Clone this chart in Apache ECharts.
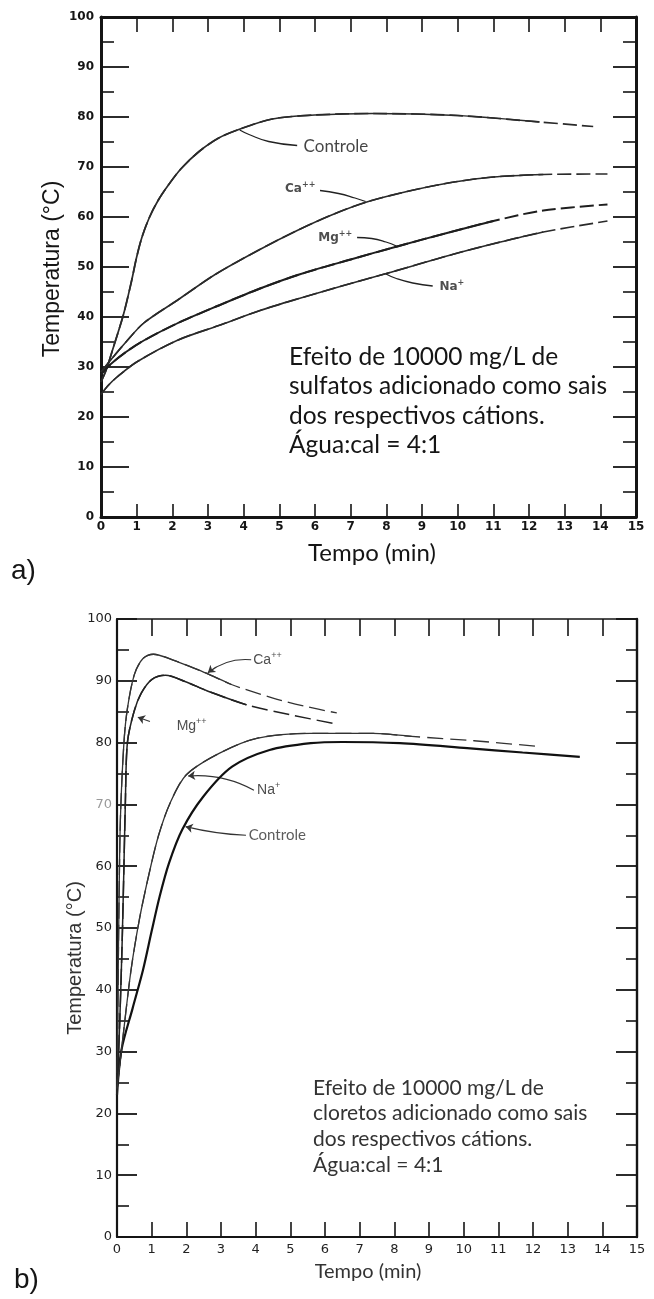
<!DOCTYPE html>
<html><head><meta charset="utf-8">
<script src="https://cdn.jsdelivr.net/npm/echarts@6/dist/echarts.min.js"></script>
<style>html,body{margin:0;padding:0;background:#fff;}#c{width:654px;height:1299px;}</style>
</head><body><div id="c"></div>
<script>
// ---------- shared axis values ----------
const timeRange = [0, 15];      // Tempo (min)
const timeStep = 1;
const tempRange = [0, 100];     // Temperatura (°C)
const tempStep = 10;

// ---------- a) sulfatos : [tempo, temperatura] ----------
const aControle = [[0,27],[0.15,29.5],[0.35,34],[0.63,40.5],[0.85,47],[1.0,52],[1.15,56],[1.35,59.8],[1.6,63.3],[1.9,66.5],[2.25,69.7],[2.75,73.1],[3.3,75.8],[3.9,77.6],[4.8,79.6],[6,80.4],[7.6,80.7],[10,80.3],[12.3,79],[13.8,78.1]];
const aCa = [[0,29],[0.26,31.3],[0.7,35],[1.2,38.8],[2.13,43.3],[3.2,48.5],[4.4,53.3],[5.5,57.3],[6.5,60.5],[7.45,63],[8.7,65.3],[9.9,67],[11,68],[12.4,68.5],[14.2,68.6]];
const aMg = [[0,28.5],[0.26,30.5],[0.7,33],[1.2,35.3],[2.13,38.7],[3.3,42.3],[4.46,45.7],[5.6,48.6],[7,51.5],[8.3,54.1],[9.7,56.8],[11,59.2],[12.4,61.3],[14.2,62.5]];
const aNa = [[0,24.5],[0.2,26.3],[0.45,28],[1,31],[2.13,35.3],[3.3,38.3],[4.46,41.3],[5.6,43.8],[6.8,46.3],[8,48.7],[9.9,52.6],[11.2,55],[12.4,57],[14.2,59.2]];
const aDashStart = [12.3, 12.4, 11, 12.4];   // Controle, Ca, Mg, Na
const aLabelNames = ['Controle', 'Ca++', 'Mg++', 'Na+'];
const aLabelAt = [[5.68,74],[5.16,65.7],[6.09,55.9],[9.49,46.1]];
const aPtrControle = [[3.89,77.4],[4.15,76.5],[4.7,75.1],[5.5,74.3]];
const aPtrCa = [[6.14,65.3],[6.66,64.7],[7.12,63.8],[7.42,63.1]];
const aPtrMg = [[7.18,55.9],[7.59,55.7],[7.99,55.0],[8.28,54.2]];
const aPtrNa = [[7.99,48.6],[8.28,47.7],[8.74,46.8],[9.3,46.2]];
const aNote = ['Efeito de 10000 mg/L de', 'sulfatos adicionado como sais', 'dos respectivos cátions.', 'Água:cal = 4:1'];

// ---------- b) cloretos ----------
const bControle = [[0,23],[0.13,30.3],[0.45,37],[0.75,43.2],[1.0,49.5],[1.23,55.1],[1.5,60.5],[1.88,65.9],[2.48,71.2],[3.32,76.1],[4.4,78.8],[5.59,79.9],[6.5,80.1],[8.16,79.9],[10.1,79.1],[11.7,78.4],[13.35,77.7]];
const bCa = [[0,23],[0.03,40],[0.06,55],[0.1,68],[0.2,80],[0.3,85.5],[0.5,91],[0.75,93.6],[1.05,94.3],[1.6,93.4],[2.2,92.1],[2.59,91.2],[3.3,89.4],[4.5,87.2],[5.4,85.9],[6.34,84.8]];
const bMg = [[0,23],[0.08,35],[0.15,48],[0.2,60],[0.24,70],[0.3,80],[0.49,85],[0.7,88],[1.0,90.2],[1.4,90.9],[2.0,89.8],[2.59,88.4],[3.74,86.1],[5.0,84.5],[6.34,83.0]];
const bNa = [[0,24],[0.13,30.3],[0.4,43],[0.65,51.5],[0.93,58.9],[1.2,65],[1.53,70.2],[2.0,74.8],[2.96,78.3],[4.03,80.7],[5.59,81.5],[7.38,81.5],[8.5,81],[10.3,80.3],[12.1,79.4]];
const bDashStart = [99, 3.3, 3.74, 8.5];     // Controle (solid), Ca, Mg, Na
const bLabelNames = ['Controle', 'Ca++', 'Mg++', 'Na+'];
const bLabelAt = [[3.8,65],[3.93,93.3],[1.72,82.7],[4.04,72.3]];
const bPtrControle = [[3.72,65.0],[1.98,66.4]];
const bPtrCa = [[3.87,93.4],[2.62,91.3]];
const bPtrMg = [[0.95,83.4],[0.6,84.1]];
const bPtrNa = [[3.95,72.3],[2.05,74.6]];
const bNote = ['Efeito de 10000 mg/L de', 'cloretos adicionado como sais', 'dos respectivos cátions.', 'Água:cal = 4:1'];

// ---------- build ----------
const INK = '#151515';
function curve(pts, xd, ax, color, width, dash){
  const i = pts.findIndex(p => p[0] >= xd);
  const base = {type:'line', xAxisIndex:ax, yAxisIndex:ax, smooth:0.3,
    symbol:'none', showSymbol:false, silent:true, animation:false};
  if (i < 0) return [Object.assign({}, base, {z:3, data:pts, lineStyle:{color, width}})];
  // whole curve dashed underneath, solid part drawn on top -> one continuous smooth path
  return [
    Object.assign({}, base, {z:2, data:pts, lineStyle:{color, width, type:dash}}),
    Object.assign({}, base, {z:3, data:pts.slice(0, i + 1), lineStyle:{color, width}})
  ];
}
function pointer(pts, ax){
  return {type:'line', xAxisIndex:ax, yAxisIndex:ax, data:pts, smooth:0.5, symbol:'none',
    showSymbol:false, silent:true, animation:false, lineStyle:{color:'#222', width:1.3}};
}
function arrow(pts, ax, curv){
  return {type:'lines', coordinateSystem:'cartesian2d', xAxisIndex:ax, yAxisIndex:ax, polyline:false,
    symbol:['none','arrow'], symbolSize:7, silent:true, animation:false,
    lineStyle:{color:'#333', width:1.1, curveness:curv, opacity:1},
    data:[{coords:pts}]};
}
function sup(name){
  const m = name.match(/^([A-Za-z]+)(\+*)$/);
  return '{m|' + m[1] + '}' + (m[2] ? '{s|' + m[2] + '}' : '');
}
function labels(names, at, ax, mStyle, sStyle){
  return {type:'scatter', xAxisIndex:ax, yAxisIndex:ax, symbolSize:0, silent:true, animation:false, z:5,
    data: names.map((n,i) => ({value: at[i], name: n})),
    label:{show:true, position:'inside', align:'left', verticalAlign:'middle',
      formatter: p => sup(p.name), rich:{m:mStyle, s:sStyle}}};
}

function xAxes(grid, labelStyle, axW, tickLen){
  return [
    {type:'value', gridIndex:grid, position:'bottom', min:timeRange[0], max:timeRange[1], interval:timeStep,
     axisLine:{show:true, onZero:false, lineStyle:{color:INK, width:axW}},
     axisTick:{show:true, inside:true, length:tickLen, lineStyle:{color:INK, width:1.6}},
     axisLabel:Object.assign({show:true, showMinLabel:true, showMaxLabel:true, hideOverlap:false}, labelStyle),
     splitLine:{show:false}},
    {type:'value', gridIndex:grid, position:'top', min:timeRange[0], max:timeRange[1], interval:timeStep,
     axisLine:{show:true, onZero:false, lineStyle:{color:INK, width:axW}},
     axisTick:{show:true, inside:true, length:tickLen+2, lineStyle:{color:INK, width:1.6}},
     axisLabel:{show:false}, splitLine:{show:false}}
  ];
}
function yAxes(grid, labelStyle, axW, lMaj, lMin, rMaj, rMin){
  return [
    {type:'value', gridIndex:grid, position:'left', min:tempRange[0], max:tempRange[1], interval:tempStep,
     axisLine:{show:true, onZero:false, lineStyle:{color:INK, width:axW}},
     axisTick:{show:true, inside:true, length:lMaj, lineStyle:{color:INK, width:1.8}},
     minorTick:{show:true, splitNumber:2, length:lMin, lineStyle:{color:INK, width:1.6}},
     axisLabel:Object.assign({show:true, showMinLabel:true, showMaxLabel:true, hideOverlap:false}, labelStyle),
     splitLine:{show:false}, minorSplitLine:{show:false}},
    {type:'value', gridIndex:grid, position:'right', min:tempRange[0], max:tempRange[1], interval:tempStep,
     axisLine:{show:true, onZero:false, lineStyle:{color:INK, width:axW}},
     axisTick:{show:true, inside:true, length:rMaj, lineStyle:{color:INK, width:1.8}},
     minorTick:{show:true, splitNumber:2, length:rMin, lineStyle:{color:INK, width:1.6}},
     axisLabel:{show:false}, splitLine:{show:false}, minorSplitLine:{show:false}}
  ];
}

const labA = {fontFamily:'"DejaVu Sans", sans-serif', fontWeight:'bold', fontSize:12, color:INK};
const labB = {fontFamily:'"DejaVu Sans", sans-serif', fontSize:13, color:'#222'};

const xa = xAxes(0, Object.assign({margin:4}, labA), 3, 13);
const xb = xAxes(1, Object.assign({margin:6}, labB), 2.2, 15);
const ya = yAxes(0, Object.assign({margin:7}, labA), 3, 28, 13, 23, 13);
const yb = yAxes(1, Object.assign({margin:5,
  formatter: v => v === 70 ? '{g|70}' : String(v),
  rich:{g:{color:'#9a9a9a', fontFamily:'"DejaVu Sans", sans-serif', fontSize:13}}}, labB), 2.2, 20, 12, 21, 11);
yb[1].axisLine.lineStyle.width = 2.4;
xb[1].axisLine.lineStyle.width = 1.6;

const series = [].concat(
  curve(aControle, aDashStart[0], 0, '#2a2a2a', 1.7, [14,5]),
  curve(aCa, aDashStart[1], 0, '#2a2a2a', 1.6, [14,5]),
  curve(aMg, aDashStart[2], 0, '#1e1e1e', 1.9, [14,5]),
  curve(aNa, aDashStart[3], 0, '#2a2a2a', 1.6, [14,5]),
  [pointer(aPtrControle,0), pointer(aPtrCa,0), pointer(aPtrMg,0), pointer(aPtrNa,0)],
  [labels(aLabelNames.slice(0,1), aLabelAt.slice(0,1), 0,
     {fontFamily:'Lato, sans-serif', fontSize:17, color:INK}, {fontSize:9}),
   labels(aLabelNames.slice(1), aLabelAt.slice(1), 0,
     {fontFamily:'"DejaVu Sans", sans-serif', fontWeight:'bold', fontSize:12, color:'#222', lineHeight:16},
     {fontFamily:'"DejaVu Sans", sans-serif', fontWeight:'bold', fontSize:8, color:'#222', verticalAlign:'top', lineHeight:10})],
  curve(bControle, bDashStart[0], 2, '#111', 2.2, [16,6]),
  curve(bCa, bDashStart[1], 2, '#333', 1.3, [16,6]),
  curve(bMg, bDashStart[2], 2, '#222', 1.5, [16,6]),
  curve(bNa, bDashStart[3], 2, '#333', 1.3, [16,7]),
  [arrow(bPtrControle,2,0.05), arrow(bPtrCa,2,-0.2), arrow(bPtrMg,2,0), arrow(bPtrNa,2,-0.15)],
  [labels(bLabelNames.slice(0,1), bLabelAt.slice(0,1), 2,
     {fontFamily:'Lato, sans-serif', fontSize:15, color:'#333'}, {fontSize:9}),
   labels(bLabelNames.slice(1), bLabelAt.slice(1), 2,
     {fontFamily:'"Liberation Sans", Arial, sans-serif', fontSize:14, color:'#222', lineHeight:18},
     {fontFamily:'"Liberation Sans", Arial, sans-serif', fontSize:9, color:'#222', verticalAlign:'top', lineHeight:10})]
);

function txt(x, y, text, font, opts){
  return Object.assign({type:'text', x, y, silent:true,
    style:Object.assign({text, font, fill:INK, align:'left', verticalAlign:'middle'}, (opts && opts.style) || {})},
    (opts && opts.el) || {});
}
const graphic = [
  txt(53, 269, 'Temperatura (°C)', '23px "Liberation Sans", Arial, sans-serif', {el:{rotation:Math.PI/2}, style:{align:'center'}}),
  txt(372, 553, 'Tempo (min)', '24px Lato, sans-serif', {style:{align:'center'}}),
  txt(11, 571, 'a)', '28px "Liberation Sans", Arial, sans-serif'),
  txt(75, 958, 'Temperatura (°C)', '20px "Liberation Sans", Arial, sans-serif', {el:{rotation:Math.PI/2}, style:{align:'center', fill:'#333'}}),
  txt(368, 1272, 'Tempo (min)', '20px Lato, sans-serif', {style:{align:'center', fill:'#333'}}),
  txt(14, 1280, 'b)', '28px "Liberation Sans", Arial, sans-serif')
].concat(
  aNote.map((t,i) => txt(289, 357 + i*29.5, t, '24.5px Lato, sans-serif')),
  bNote.map((t,i) => txt(313, 1088 + i*25.7, t, '21px Lato, sans-serif', {style:{fill:'#333'}}))
);

const chart = echarts.init(document.getElementById('c'), null, {renderer:'canvas', width:654, height:1299});
chart.setOption({
  animation:false,
  backgroundColor:'#ffffff',
  grid:[
    {left:101, top:17, width:535, height:500, outerBoundsMode:'none', containLabel:false},
    {left:117, top:619, width:520, height:618, outerBoundsMode:'none', containLabel:false}
  ],
  xAxis:[xa[0], xa[1], Object.assign(xb[0], {gridIndex:1}), Object.assign(xb[1], {gridIndex:1})],
  yAxis:[ya[0], ya[1], Object.assign(yb[0], {gridIndex:1}), Object.assign(yb[1], {gridIndex:1})],
  series: series,
  graphic: graphic
});
</script></body></html>
